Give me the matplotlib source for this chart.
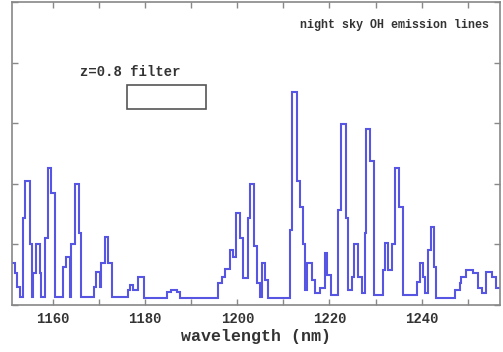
import matplotlib
matplotlib.use("Agg")
import matplotlib.pyplot as plt
from matplotlib.patches import Rectangle
from matplotlib.ticker import MultipleLocator, NullFormatter

# bin edges (nm) and relative sky flux for the OH spectrum
edges = [1151.1, 1151.75, 1152.2, 1152.8, 1153.5, 1154.0, 1155.0, 1155.4, 1155.7, 1156.4,
         1157.1, 1157.5, 1158.2, 1158.9, 1159.6, 1160.4, 1162.2, 1162.9, 1163.6, 1163.9,
         1164.7, 1165.6, 1166.1, 1168.9, 1169.4, 1170.1, 1170.4, 1171.2, 1171.9, 1172.8,
         1176.3, 1176.7, 1177.4, 1178.4, 1179.7, 1184.7, 1185.7, 1186.8, 1187.5, 1195.9,
         1196.6, 1197.3, 1198.4, 1199.1, 1199.8, 1200.6, 1201.3, 1202.4, 1202.7, 1203.7,
         1204.2, 1204.9, 1205.3, 1206.0, 1206.6, 1211.4, 1211.8, 1212.9, 1213.6, 1214.3,
         1214.7, 1215.2, 1216.1, 1216.8, 1217.9, 1219.0, 1219.4, 1220.4, 1221.9, 1222.6,
         1223.5, 1224.0, 1224.8, 1225.3, 1226.2, 1227.0, 1227.7, 1228.0, 1228.8, 1229.7,
         1231.6, 1232.0, 1232.7, 1233.5, 1234.2, 1235.05, 1236.0, 1238.9, 1239.6, 1240.2,
         1240.7, 1241.4, 1242.0, 1242.6, 1243.1, 1247.2, 1248.3, 1248.6, 1249.7, 1251.1,
         1252.2, 1253.0, 1254.0, 1255.2, 1256.2, 1257.0]

flux = [0.7, 0.52, 0.3, 0.13, 1.44, 2.05, 1.0, 0.13, 0.52, 1.0,
        0.52, 0.13, 1.1, 2.26, 1.84, 0.13, 0.62, 0.79, 0.13, 1.0,
        2.0, 1.18, 0.13, 0.3, 0.54, 0.3, 0.7, 1.12, 0.69, 0.13,
        0.25, 0.33, 0.25, 0.46, 0.11, 0.21, 0.24, 0.21, 0.11, 0.36,
        0.46, 0.6, 0.9, 0.79, 1.52, 1.11, 0.44, 1.44, 2.0, 0.98,
        0.36, 0.13, 0.69, 0.41, 0.11, 1.23, 3.52, 2.05, 1.61, 1.0,
        0.25, 0.69, 0.41, 0.2, 0.28, 0.85, 0.5, 0.16, 1.56, 2.98,
        1.44, 0.25, 0.46, 1.0, 0.46, 0.2, 1.18, 2.9, 2.38, 0.16,
        0.57, 1.03, 0.57, 1.0, 2.26, 1.61, 0.16, 0.38, 0.69, 0.46,
        0.2, 0.9, 1.28, 0.62, 0.11, 0.25, 0.36, 0.46, 0.57, 0.52,
        0.28, 0.2, 0.54, 0.46, 0.28]

# z=0.8 filter box: wavelength range and height range
filter_wl = [1176.0, 1193.2]
filter_y = [3.23, 3.63]

font = "Liberation Mono"
gray = "#888888"
txt = "#333333"

fig = plt.figure(figsize=(5.03, 3.52), dpi=100)
ax = fig.add_axes([12 / 503, 47 / 352, 488 / 503, 303 / 352])

ax.stairs(flux, edges, baseline=None, color="#5656e2", linewidth=1.5)

ax.add_patch(Rectangle((filter_wl[0], filter_y[0]), filter_wl[1] - filter_wl[0],
                       filter_y[1] - filter_y[0], fill=False, edgecolor="#555555",
                       linewidth=1.2))
ax.text(1165.85, 3.84, "z=0.8 filter", family=font, weight="bold", fontsize=10,
        color=txt, va="center", ha="left")
ax.text(1254.6, 4.62, "night sky OH emission lines", family=font, weight="bold",
        fontsize=8.4, color=txt, va="center", ha="right")

ax.set_xlim(1151.1, 1257.0)
ax.set_ylim(0, 5)

ax.xaxis.set_major_locator(MultipleLocator(20))
ax.xaxis.set_minor_locator(MultipleLocator(10))
ax.yaxis.set_major_locator(MultipleLocator(1))
ax.yaxis.set_major_formatter(NullFormatter())
ax.tick_params(which="both", direction="in", top=True, right=True, length=4,
               width=1, color=gray, labelsize=10, labelcolor=txt, pad=5)
for lab in ax.get_xticklabels():
    lab.set_family(font)
    lab.set_weight("bold")
for s in ax.spines.values():
    s.set_color(gray)
    s.set_linewidth(1.2)

ax.set_xlabel("wavelength (nm)", family=font, weight="bold", fontsize=12,
              color=txt, labelpad=2)

fig.savefig("out.png", dpi=100)
